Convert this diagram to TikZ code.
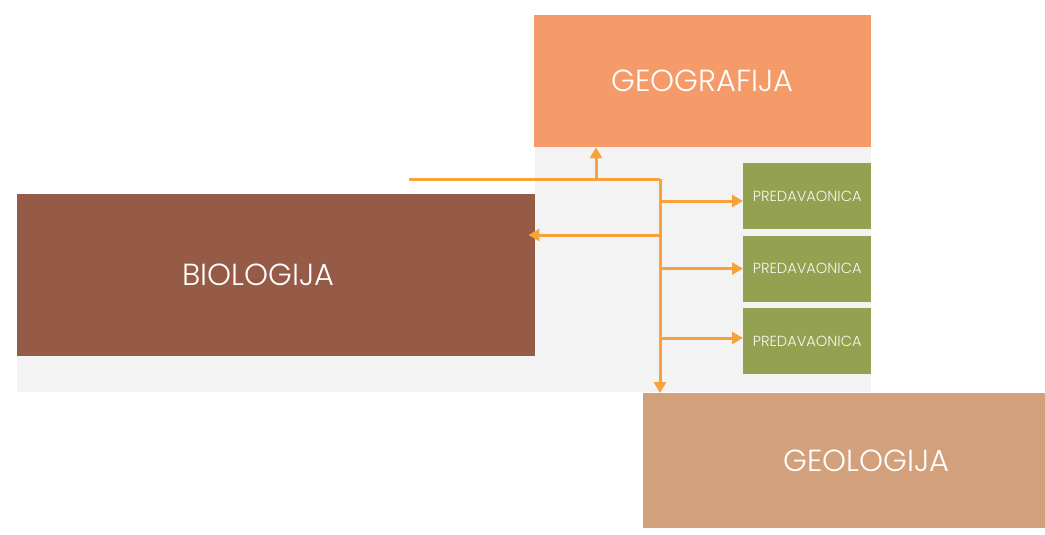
\documentclass[tikz,border=0pt]{standalone}
\usepackage{fontspec}
\setmainfont{Poppins Light}
\usepackage{tikz}
\usetikzlibrary{positioning,arrows.meta,calc}
\definecolor{geografc}{HTML}{F59B6A}
\definecolor{bioc}{HTML}{955B47}
\definecolor{geoloc}{HTML}{D3A07C}
\definecolor{predc}{HTML}{93A150}
\definecolor{panelc}{HTML}{F3F3F3}
\definecolor{linkc}{HTML}{F7A23B}
\tikzset{
  subj/.style={draw=none, rectangle, inner sep=0pt, text=white, font=\fontsize{30.5}{31}\selectfont},
  room/.style={draw=none, fill=predc, rectangle, inner sep=0pt, minimum width=128pt, minimum height=66pt,
    text=white!92!predc, font=\fontsize{14.6}{15}\selectfont},
  panel/.style={fill=panelc, draw=none},
  fl/.style={-{Triangle[length=11pt,width=12pt]}, linkc, line width=3pt},
  ln/.style={linkc, line width=3pt},
}

\begin{document}
\begin{tikzpicture}[x=1pt, y=-1pt, node distance=6pt]
\useasboundingbox (0,0) rectangle (1045,535);
%% ---- sive podloge iza blokova
\fill[panel] (17,194) rectangle (535,392);
\fill[panel] (535,147) rectangle (871,392);

%% ---- tri predmeta
\node[subj, fill=geografc, anchor=north west, minimum width=337pt, minimum height=132pt] (geo) at (534,15) {GEOGRAFIJA};
\node[subj, fill=bioc, anchor=north west, minimum width=518pt, minimum height=162pt] (bio) at (17,194) {BIOLOGIJA\hspace*{36pt}};
\node[subj, fill=geoloc, anchor=north west, minimum width=402pt, minimum height=135pt] (geol) at (643,393) {\hspace*{44pt}GEOLOGIJA};

%% ---- predavaonice, jedna ispod druge
\node[room, anchor=north west] (pr1) at (743,163) {PREDAVAONICA};
\node[room, below=of pr1] (pr2) {PREDAVAONICA};
\node[room, below=of pr2] (pr3) {PREDAVAONICA};

%% ---- veze
\coordinate (start) at (409,179);
\coordinate (j) at (660,179);
\coordinate (up) at (596,179);
\coordinate (jb) at (660,235);
\draw[ln] (start) -- (j);
\draw[fl] (j) -- (j |- geol.north);
\draw[fl] (up) -- (up |- geo.south);
\draw[fl] (j |- 0,201) -- (pr1.west |- 0,201);
\draw[fl] (jb) -- ($(bio.east |- jb)+(-7,0)$);
\draw[fl] (j |- pr2.west) -- (pr2.west);
\draw[fl] (j |- 0,338) -- (pr3.west |- 0,338);
\end{tikzpicture}
\end{document}
